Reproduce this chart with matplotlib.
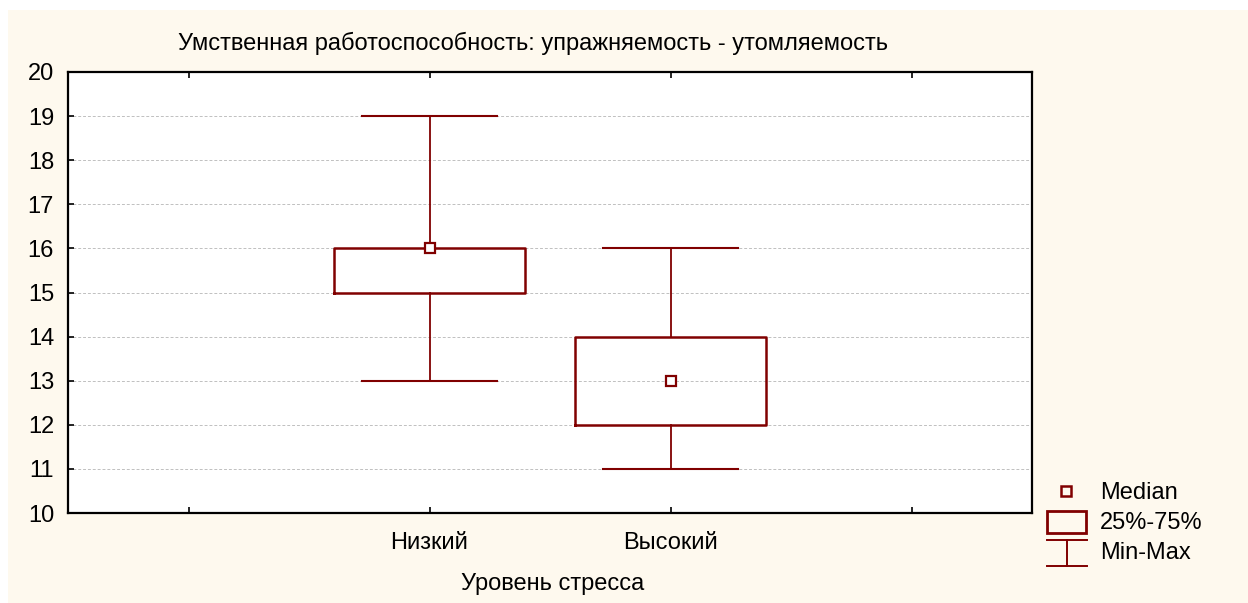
import numpy as np
import matplotlib
matplotlib.use('Agg')
import matplotlib.pyplot as plt
from matplotlib.patches import Rectangle

plt.rcParams['font.family'] = ['Liberation Sans', 'DejaVu Sans']

# data
categories = ['Низкий', 'Высокий']
positions = [1.5, 2.5]
medians = [16, 13]
q1 = [15, 12]
q3 = [16, 14]
mins = [13, 11]
maxs = [19, 16]

title = 'Умственная работоспособность: упражняемость - утомляемость'
xlabel = 'Уровень стресса'
legend_labels = ['Median', '25%-75%', 'Min-Max']

red = '#800000'
cream = '#fef9ee'
W, H = 1248, 603
fs = 17

fig = plt.figure(figsize=(W / 100, H / 100), dpi=100)
fig.patch.set_facecolor('white')
# cream background panel
fig.patches.append(Rectangle((8 / W, 0), 1, 1 - 10 / H,
                             transform=fig.transFigure, facecolor=cream,
                             edgecolor='none', zorder=-10))

ax = fig.add_axes([68 / W, (H - 513) / H, 964 / W, 441 / H])
ax.set_facecolor('white')

stats = []
for i in range(len(categories)):
    stats.append(dict(med=medians[i], q1=q1[i], q3=q3[i],
                      whislo=mins[i], whishi=maxs[i], label=categories[i]))

ax.bxp(stats, positions=positions, widths=0.79, capwidths=0.56,
       showfliers=False, manage_ticks=False,
       boxprops=dict(color=red, linewidth=1.8),
       whiskerprops=dict(color=red, linewidth=1.3),
       capprops=dict(color=red, linewidth=1.5),
       medianprops=dict(linewidth=0))
ax.plot(positions, medians, 's', mfc='white', mec=red, mew=1.6, ms=7,
        linestyle='none', zorder=5)

ax.set_xlim(0, 4)
ax.set_ylim(10, 20)
ax.set_yticks(np.arange(10, 21, 1))
ax.set_xticks([0.5, 1.5, 2.5, 3.5])
ax.set_xticklabels(['', categories[0], categories[1], ''])
ax.tick_params(axis='both', direction='in', length=4, width=1.2,
               labelsize=fs, top=True, colors='black')
ax.tick_params(axis='x', pad=14)
ax.tick_params(axis='y', pad=10)
ax.yaxis.grid(True, linestyle=(0, (3, 2)), color='#c0c0c0', linewidth=0.7)
ax.set_axisbelow(True)
for s in ax.spines.values():
    s.set_linewidth(1.6)

fig.text(533 / W, 1 - 43 / H, title, ha='center', va='center', fontsize=fs)
fig.text(553 / W, 1 - 584 / H, xlabel, ha='center', va='center', fontsize=fs)

# legend drawn in pixel coordinates
lg = fig.add_axes([0, 0, 1, 1])
lg.set_xlim(0, W)
lg.set_ylim(H, 0)
lg.axis('off')
lg.patch.set_visible(False)
lg.plot([1066], [491], 's', mfc='none', mec=red, mew=1.8, ms=7)
lg.add_patch(Rectangle((1047, 511), 39, 22, facecolor='none', edgecolor=red,
                       linewidth=2.0))
lg.plot([1047, 1087], [540, 540], color=red, lw=1.4)
lg.plot([1047, 1087], [566, 566], color=red, lw=1.4)
lg.plot([1067, 1067], [540, 566], color=red, lw=1.4)
for lab, yy in zip(legend_labels, [493, 523, 553]):
    lg.text(1100, yy, lab, ha='left', va='center', fontsize=fs)

fig.savefig('out.png', dpi=100)
